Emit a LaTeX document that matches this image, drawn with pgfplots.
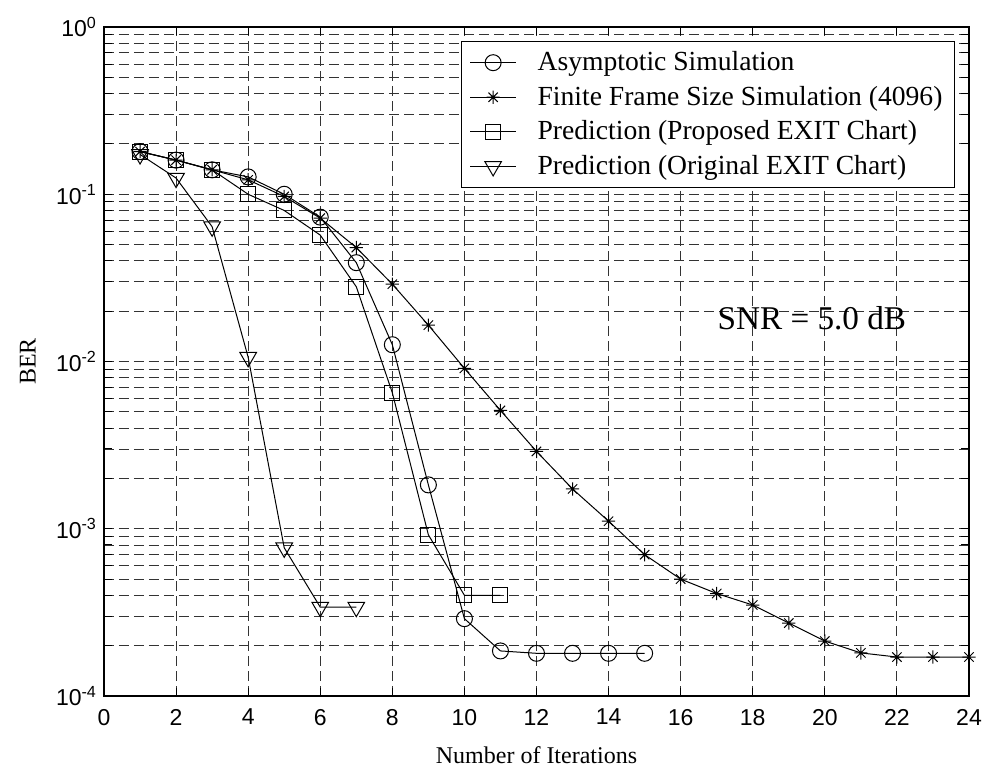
\documentclass[border=0pt]{standalone}
\usepackage{fontspec}
\setmainfont{Liberation Serif}
\newfontfamily\arial{Liberation Sans}
\usepackage{pgfplots}
\pgfplotsset{compat=1.18}
\pgfdeclareplotmark{mstar}{%
  \pgfpathmoveto{\pgfqpoint{-\pgfplotmarksize}{0pt}}\pgfpathlineto{\pgfqpoint{\pgfplotmarksize}{0pt}}%
  \pgfpathmoveto{\pgfqpoint{0pt}{-\pgfplotmarksize}}\pgfpathlineto{\pgfqpoint{0pt}{\pgfplotmarksize}}%
  \pgfpathmoveto{\pgfqpoint{-.7071\pgfplotmarksize}{-.7071\pgfplotmarksize}}\pgfpathlineto{\pgfqpoint{.7071\pgfplotmarksize}{.7071\pgfplotmarksize}}%
  \pgfpathmoveto{\pgfqpoint{-.7071\pgfplotmarksize}{.7071\pgfplotmarksize}}\pgfpathlineto{\pgfqpoint{.7071\pgfplotmarksize}{-.7071\pgfplotmarksize}}%
  \pgfusepathqstroke}
\begin{document}
\begin{tikzpicture}
\begin{semilogyaxis}[
  scale only axis,
  width=432.5pt, height=334.5pt,
  xmin=0, xmax=24, ymin=1e-4, ymax=1,
  xtick={0,2,4,6,8,10,12,14,16,18,20,22,24},
  xticklabels={0,2,4,6,8,10,12,14,16,18,20,22,24},
  ytick={1e-4,1e-3,1e-2,1e-1,1},
  yticklabels={10\textsuperscript{-4},10\textsuperscript{-3},10\textsuperscript{-2},10\textsuperscript{-1},10\textsuperscript{0}},
  tick label style={font=\arial\fontsize{11.5}{13}\selectfont},
  xticklabel style={yshift=-3pt},
  tick align=inside, xtick pos=both, ytick pos=both,
  major tick length=4pt, minor tick length=4pt,
  every tick/.style={black, line width=0.5pt},
  axis line style={black, line width=0.8pt},
  xmajorgrids, ymajorgrids, yminorgrids,
  major grid style={black!80, line width=0.45pt, dash pattern=on 5pt off 2.5pt},
  minor grid style={black!80, line width=0.45pt, dash pattern=on 5pt off 2.5pt},
  xlabel={Number of Iterations},
  ylabel={BER},
  label style={font=\fontsize{12}{14}\selectfont},
  xlabel style={at={(axis description cs:0.5,0)}, anchor=center, yshift=-29.5pt},
  ylabel style={at={(axis description cs:-0.088,0.5)}, anchor=center},
  clip=false,
  legend cell align=left,
  legend style={at={(rel axis cs:1,1)}, anchor=north east, xshift=-7pt, yshift=-7pt,
    draw=black, line width=0.6pt, fill=white,
    font=\fontsize{13.8}{16}\selectfont, row sep=2.2pt,
    inner xsep=4pt, inner ysep=3pt},
  legend image code/.code={\draw[mark repeat=2,mark phase=2,line width=0.5pt] plot coordinates {(0pt,0pt)(11.5pt,0pt)(23pt,0pt)};\path (0pt,0pt) (31.5pt,0pt);},
]
\addplot[black, line width=0.5pt, mark=o, mark size=4pt, mark options={solid}] coordinates {
(1,0.18)(2,0.16)(3,0.14)(4,0.127)(5,0.1)(6,0.073)(7,0.039)(8,0.0126)(9,0.00183)(10,0.00029)(11,0.000186)(12,0.00018)(13,0.00018)(14,0.00018)(15,0.00018)};
\addlegendentry{Asymptotic Simulation}
\addplot[black, line width=0.5pt, mark=mstar, mark size=3.3pt, mark options={solid}] coordinates {
(1,0.18)(2,0.16)(3,0.14)(4,0.122)(5,0.097)(6,0.072)(7,0.048)(8,0.029)(9,0.0165)(10,0.0091)(11,0.0051)(12,0.0029)(13,0.00173)(14,0.00111)(15,0.0007)(16,0.0005)(17,0.00041)(18,0.00035)(19,0.000273)(20,0.000213)(21,0.000181)(22,0.000171)(23,0.000171)(24,0.000171)};
\addlegendentry{Finite Frame Size Simulation (4096)}
\addplot[black, line width=0.5pt, mark=square, mark size=3.75pt, mark options={solid}] coordinates {
(1,0.18)(2,0.16)(3,0.14)(4,0.1)(5,0.08)(6,0.057)(7,0.028)(8,0.0065)(9,0.00092)(10,0.0004)(11,0.0004)};
\addlegendentry{Prediction (Proposed EXIT Chart)}
\addplot[black, line width=0.5pt, mark=triangle, mark size=4.8pt, mark options={solid, rotate=180}] coordinates {
(1,0.173)(2,0.125)(3,0.064)(4,0.0106)(5,0.00077)(6,0.00034)(7,0.00034)};
\addlegendentry{Prediction (Original EXIT Chart)}
\node[font=\fontsize{16.6}{19}\selectfont] at (axis cs:19.64,0.0182) {SNR = 5.0 dB};
\end{semilogyaxis}
\pgfresetboundingbox
\path[use as bounding box] ([xshift=-52pt,yshift=-36.5pt]current axis.south west) rectangle ([xshift=8.5pt,yshift=13.5pt]current axis.north east);
\end{tikzpicture}
\end{document}
